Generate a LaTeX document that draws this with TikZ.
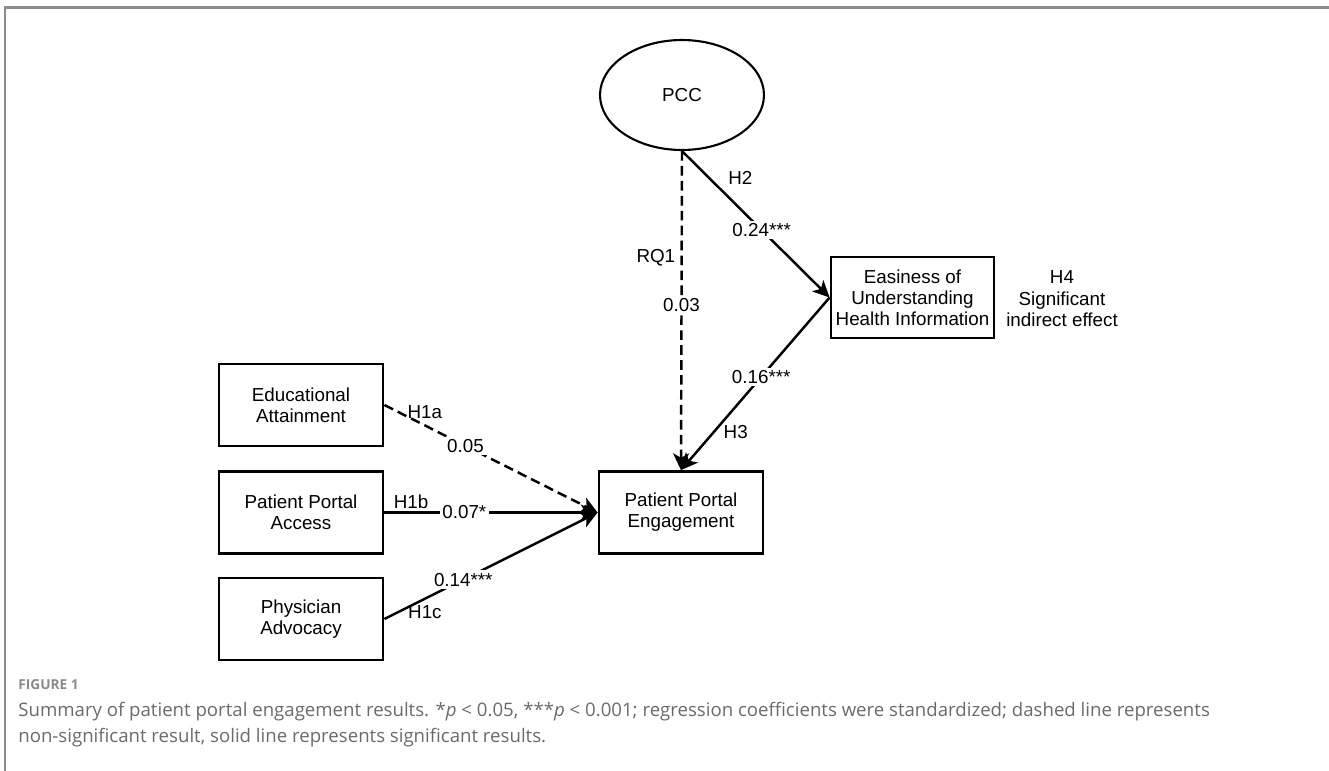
\documentclass[tikz,border=0pt]{standalone}
\usepackage{fontspec}
\setmainfont{Liberation Sans}
\newfontfamily\capfont{Open Sans}
\usetikzlibrary{arrows.meta,shapes.geometric}
\definecolor{framegray}{HTML}{8C8C8C}
\definecolor{capgray}{HTML}{6A6A6A}
\definecolor{figgray}{HTML}{8A8A8A}

\tikzset{
  varbox/.style={draw,line width=1.6pt,minimum width=3.28cm,minimum height=1.64cm,
    align=center,inner sep=1pt},
  sigpath/.style={line width=1.4pt,-{Stealth[length=9.5pt,width=9pt,inset=2.5pt]}},
  nspath/.style={sigpath,dash pattern=on 5.5pt off 3pt},
  coef/.style={fill=white,inner sep=1.5pt},
  hyp/.style={inner sep=3pt}
}

\begin{document}
\begin{tikzpicture}[x=0.02cm,y=-0.02cm,font=\fontsize{10.7}{12}\selectfont]
  \useasboundingbox (0,0) rectangle (1329,771);
  \draw[framegray,line width=1.4pt] (1329,7.5) -- (5,7.5) -- (5,771);

  \node[ellipse,draw,line width=1.2pt,minimum width=3.28cm,minimum height=2.2cm,
    inner sep=0pt] (pcc) at (682,95) {PCC};
  \node[varbox] (edu) at (301,405) {Educational\\Attainment};
  \node[varbox] (ppa) at (301,512.5) {Patient Portal\\Access};
  \node[varbox] (phys) at (301,619) {Physician\\Advocacy};
  \node[varbox] (ppe) at (681,512.5) {Patient Portal\\Engagement};
  \node[varbox,minimum width=3.26cm,minimum height=1.62cm] (eas) at (912.5,297.5)
    {Easiness of\\Understanding\\Health Information};
  \node[align=center,font=\fontsize{10.7}{12.3}\selectfont] (h4note) at (1062,299)
    {H4\\Significant\\indirect effect};

  \draw[nspath] (pcc.south) -- node[hyp,pos=0.335,left] {RQ1}
    node[coef,pos=0.484] {0.03} (ppe.north);
  \draw[sigpath] (pcc.south) -- node[hyp,pos=0.27,above right] {H2}
    node[coef,pos=0.54] {0.24***} (eas.west);
  \draw[sigpath] (eas.west) -- node[coef,pos=0.46] {0.16***}
    node[hyp,pos=0.78,right,xshift=2pt] {H3} (ppe.north);
  \draw[nspath] (edu.east) -- node[hyp,pos=0.19,above] {H1a}
    node[coef,pos=0.38] {0.05} (ppe.west);
  \draw[sigpath] (ppa.east) -- node[hyp,pos=0.125,above,inner sep=1.5pt] {H1b}
    node[coef,pos=0.375] {0.07*} (ppe.west);
  \draw[sigpath] (phys.east) -- node[coef,pos=0.37] {0.14***}
    node[hyp,pos=0.19,below] {H1c} (ppe.west);

  \node[anchor=west,inner sep=0pt,text=figgray,
    font=\capfont\bfseries\fontsize{7.8}{9}\selectfont] (figlabel) at (18,685) {FIGURE 1};
  \node[anchor=west,align=left,inner sep=0pt,text=capgray,
    font=\capfont\fontsize{10.6}{14.8}\selectfont] (caption) at (18,725)
    {Summary of patient portal engagement results. *\textit{p} < 0.05, ***\textit{p} < 0.001; regression coefficients were standardized; dashed line represents\\
     non-significant result, solid line represents significant results.};
\end{tikzpicture}
\end{document}
